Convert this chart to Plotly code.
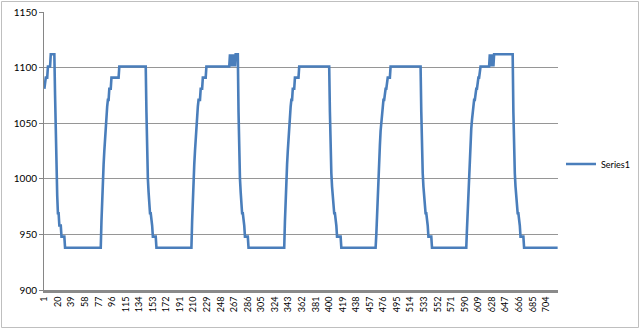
import plotly.graph_objects as go

# Run-length encoded series: value and how many consecutive categories hold it
run_values = [
    # cycle 1
    1081, 1091, 1101, 1112, 1075, 1035, 1005, 985, 969, 958, 948, 938,
    # cycle 2
    962, 985, 1000, 1013, 1025, 1038, 1050, 1058, 1065, 1071, 1081, 1091, 1101,
    1060, 1015, 1000, 988, 977, 969, 958, 948, 938,
    # cycle 3
    962, 985, 1000, 1013, 1025, 1038, 1050, 1058, 1065, 1071, 1081, 1091, 1101,
    1112, 1101, 1112, 1101, 1112, 1101, 1112, 1101, 1112,
    1060, 1015, 1000, 988, 977, 969, 958, 948, 938,
    # cycle 4
    962, 985, 1000, 1013, 1025, 1038, 1050, 1058, 1065, 1071, 1081, 1091, 1101,
    1060, 1020, 1005, 993, 982, 974, 969, 958, 948, 938,
    # cycle 5
    950, 970, 985, 1000, 1015, 1030, 1043, 1052, 1060, 1066, 1071, 1081, 1091, 1101,
    1060, 1020, 1005, 993, 982, 974, 969, 958, 948, 938,
    # cycle 6
    955, 972, 988, 1000, 1015, 1030, 1045, 1053, 1060, 1066, 1071, 1081, 1091, 1101,
    1112, 1101, 1112, 1101, 1112, 1101, 1112,
    1060, 1020, 1005, 993, 982, 974, 969, 958, 948, 938,
]
run_lengths = [
    # cycle 1
    1, 4, 4, 6, 1, 1, 1, 1, 2, 3, 5, 51,
    # cycle 2
    1, 1, 1, 1, 1, 1, 1, 1, 1, 2, 3, 11, 38,
    1, 1, 1, 1, 1, 2, 2, 5, 50,
    # cycle 3
    1, 1, 1, 1, 1, 1, 1, 1, 1, 3, 3, 5, 33,
    1, 1, 1, 1, 1, 1, 1, 1, 4,
    1, 1, 1, 1, 1, 2, 2, 5, 51,
    # cycle 4
    1, 1, 1, 1, 1, 1, 1, 1, 1, 2, 3, 6, 43,
    1, 1, 1, 1, 1, 1, 2, 2, 6, 49,
    # cycle 5
    1, 1, 1, 1, 1, 1, 1, 1, 1, 1, 2, 3, 5, 43,
    1, 1, 1, 1, 1, 1, 2, 2, 5, 49,
    # cycle 6
    1, 1, 1, 1, 1, 1, 1, 1, 1, 1, 2, 3, 3, 14,
    1, 1, 1, 1, 1, 1, 27,
    1, 1, 1, 1, 1, 1, 2, 2, 5, 48,
]

series1 = []
for v, n in zip(run_values, run_lengths):
    series1.extend([v] * n)
categories = list(range(1, len(series1) + 1))
tick_positions = list(range(1, len(series1) + 1, 19))
tick_labels = [str(t) for t in tick_positions]
y_ticks = [900, 950, 1000, 1050, 1100, 1150]

W, H = 640, 329
ML, MR, MT, MB = 44, 82, 12, 39
pw = W - ML - MR
ph = H - MT - MB

font_family = "Lato, 'Open Sans', sans-serif"

fig = go.Figure()
fig.add_trace(go.Scatter(
    x=categories, y=series1, mode="lines", name="Series1",
    line=dict(color="#4a7ebb", width=2.6),
))

fig.update_layout(
    width=W, height=H,
    margin=dict(l=ML, r=MR, t=MT, b=MB, pad=0, autoexpand=False),
    paper_bgcolor="white", plot_bgcolor="white",
    font=dict(family=font_family, color="#000000", size=10),
    showlegend=True,
    legend=dict(
        xref="container", yref="container",
        x=561 / W, xanchor="left",
        y=1 - 164 / H, yanchor="middle",
        font=dict(size=9, family=font_family),
        bgcolor="rgba(0,0,0,0)", borderwidth=0,
        tracegroupgap=0, itemwidth=30,
    ),
    xaxis=dict(
        range=[0.5, len(series1) + 0.5], automargin=False,
        tickmode="array", tickvals=tick_positions, ticktext=tick_labels,
        tickangle=-90, tickfont=dict(size=9),
        ticks="", showgrid=False, zeroline=False,
        showline=True, linecolor="#8a8a8a", linewidth=3,
    ),
    yaxis=dict(
        range=[900, 1150], automargin=False,
        tickmode="array", tickvals=y_ticks,
        tickfont=dict(size=10),
        ticks="outside", ticklen=4, tickcolor="#868686",
        showgrid=True, gridcolor="#969696", gridwidth=1,
        zeroline=False, showline=True, linecolor="#868686", linewidth=1,
    ),
    shapes=[dict(
        type="rect", xref="paper", yref="paper",
        x0=(1.5 - ML) / pw, x1=(638.5 - ML) / pw,
        y0=-(MB - 1.5) / ph, y1=1 + (MT - 1.5) / ph,
        line=dict(color="#bfbfbf", width=1), fillcolor="rgba(0,0,0,0)",
        layer="below",
    )],
)

fig.write_html("out.html")
